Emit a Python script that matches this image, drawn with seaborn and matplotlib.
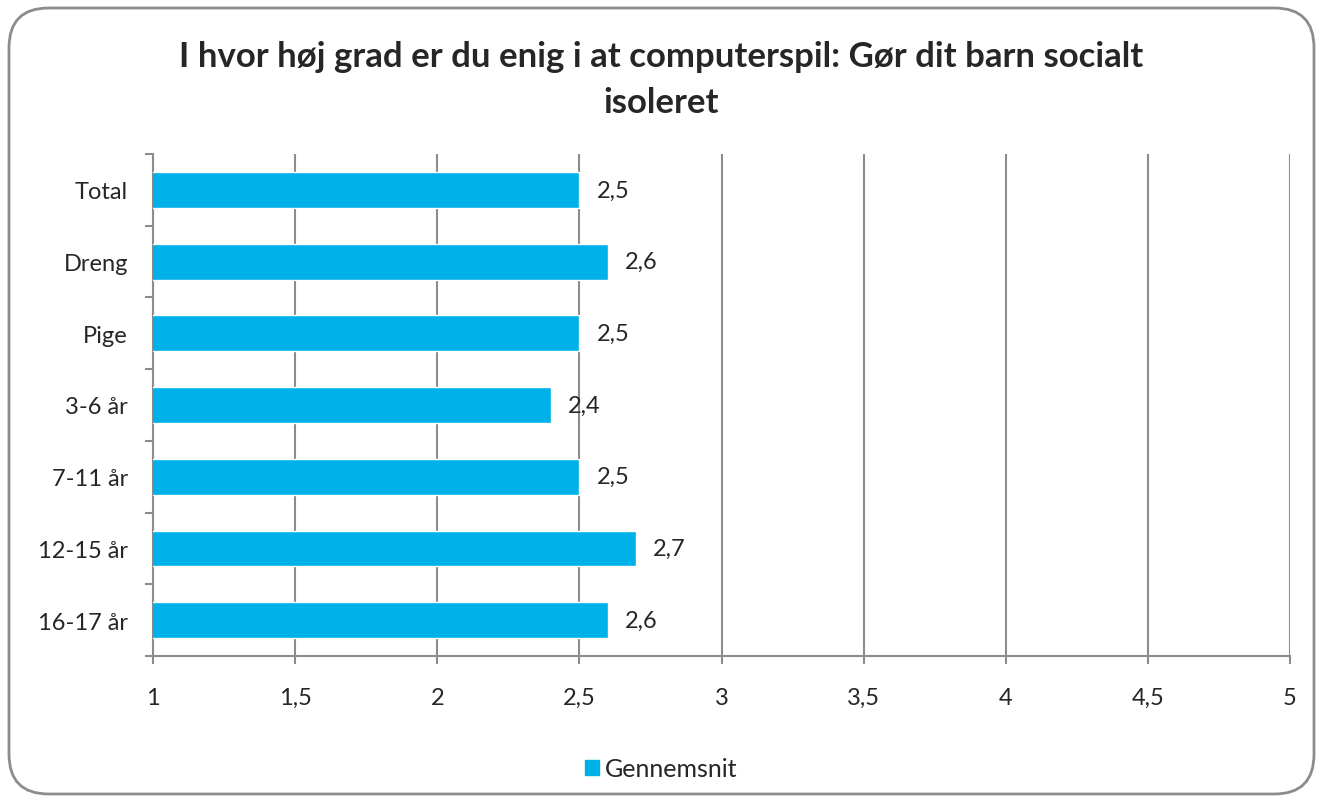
import matplotlib
matplotlib.use("Agg")
import matplotlib.pyplot as plt
from matplotlib.patches import FancyBboxPatch
import numpy as np
import pandas as pd
import seaborn as sns

# data
categories = ["Total", "Dreng", "Pige", "3-6 år", "7-11 år", "12-15 år", "16-17 år"]
values = [2.5, 2.6, 2.5, 2.4, 2.5, 2.7, 2.6]
x_ticks = [1, 1.5, 2, 2.5, 3, 3.5, 4, 4.5, 5]
series_name = "Gennemsnit"
title = "I hvor høj grad er du enig i at computerspil: Gør dit barn socialt\nisoleret"

bar_color = "#00B0E8"
grid_color = "#8C8C8C"

sns.set_theme(style="white")
plt.rcParams["font.family"] = ["Lato", "DejaVu Sans"]

df = pd.DataFrame({"Gruppe": categories, "Værdi": values})

fig = plt.figure(figsize=(13.23, 8.04), dpi=100)
ax = fig.add_axes([153 / 1323, 1 - 657 / 804, (1290 - 153) / 1323, (657 - 155) / 804])

sns.barplot(data=df, x="Værdi", y="Gruppe", orient="h", color=bar_color,
            saturation=1, width=0.5, ax=ax, zorder=3)

ax.set_xlim(1, 5)
ax.set_ylim(len(categories) - 0.5, -0.5)
ax.set_xticks(x_ticks)
ax.set_xticklabels([f"{t:g}".replace(".", ",") for t in x_ticks], fontsize=17)
ax.set_xlabel("")
ax.set_ylabel("")

# category labels centred, tick marks at the boundaries (Excel style)
ax.set_yticks(range(len(categories)))
ax.set_yticklabels(categories, fontsize=17)
ax.tick_params(axis="y", which="major", length=0, pad=18)
ax.set_yticks(np.arange(-0.5, len(categories)), minor=True)
ax.tick_params(axis="y", which="minor", length=6, width=1.5, color=grid_color, left=True)
ax.tick_params(axis="x", which="major", length=6, width=1.5, color=grid_color,
               bottom=True, pad=16)

ax.grid(axis="x", color=grid_color, linewidth=1.5, zorder=0)
ax.set_axisbelow(True)
for side in ["top", "right"]:
    ax.spines[side].set_visible(False)
for side in ["left", "bottom"]:
    ax.spines[side].set_color(grid_color)
    ax.spines[side].set_linewidth(1.5)

for i, v in enumerate(values):
    ax.text(v + 0.06, i, f"{v:.1f}".replace(".", ","), va="center", ha="left",
            fontsize=17, zorder=4)

fig.text(0.5, 1 - 80 / 804, title, ha="center", va="center", fontsize=25,
         fontweight="bold", linespacing=1.55)

# legend
handle = plt.Rectangle((0, 0), 1, 1, color=bar_color)
fig.legend([handle], [series_name], loc="center", bbox_to_anchor=(0.5, 1 - 770 / 804),
           frameon=False, fontsize=18, handlelength=0.55, handleheight=0.55,
           handletextpad=0.25)

# rounded chart border
border = FancyBboxPatch((9 / 1323, 9 / 804), 1305 / 1323, 786 / 804,
                        boxstyle="round,pad=0,rounding_size=0.03",
                        transform=fig.transFigure, fill=False,
                        edgecolor="#8C8C8C", linewidth=2, mutation_aspect=1323 / 804)
fig.patches.append(border)

fig.savefig("out.png", dpi=100)
